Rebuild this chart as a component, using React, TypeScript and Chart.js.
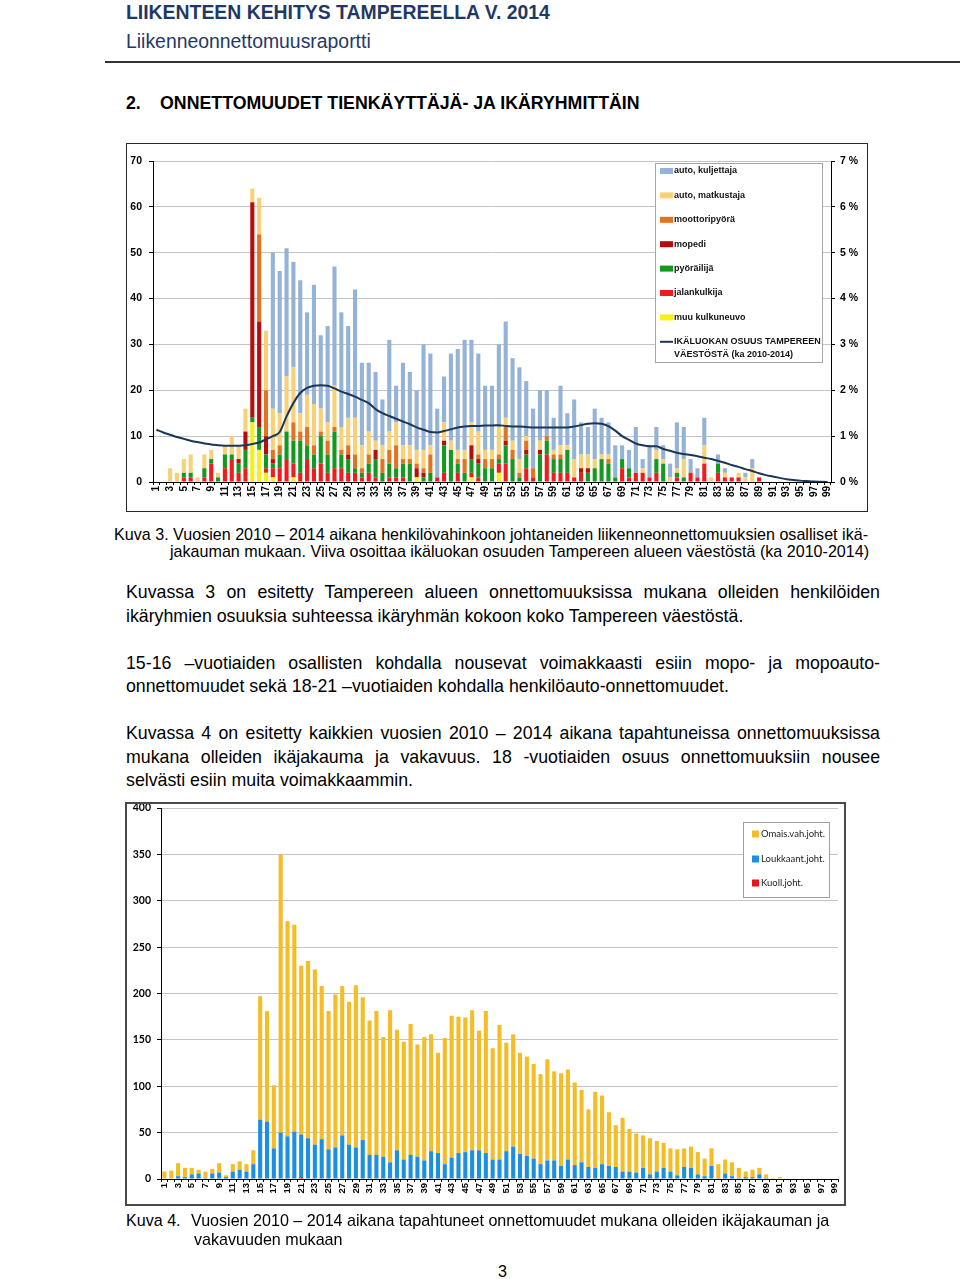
import React, { useEffect, useRef } from 'react';
import { Chart, registerables } from 'chart.js';

Chart.register(...registerables);

const FONT = "'Liberation Sans', Arial, Helvetica, sans-serif";
const FONT2 = "Lato, 'Open Sans', sans-serif";

// ---------- categories (age) ----------
const AGES = [
  '1','2','3','4','5','6','7','8','9','10',
  '11','12','13','14','15','16','17','18','19','20',
  '21','22','23','24','25','26','27','28','29','30',
  '31','32','33','34','35','36','37','38','39','40',
  '41','42','43','44','45','46','47','48','49','50',
  '51','52','53','54','55','56','57','58','59','60',
  '61','62','63','64','65','66','67','68','69','70',
  '71','72','73','74','75','76','77','78','79','80',
  '81','82','83','84','85','86','87','88','89','90',
  '91','92','93','94','95','96','97','98','99',
];

// ---------- Kuva 3: persons involved by road-user type (stack bottom -> top) ----------
const MUU_KULKUNEUVO = [
  0,0,0,0,0,0,0,0,0,0, 0,0,0,0,13,7,2,1,0,0, 1,0,0,0,0,0,0,0,0,0,
  0,0,0,0,0,0,0,0,1,0, 0,0,0,0,0,0,1,0,0,0, 2,0,0,0,0,0,0,0,0,0,
  0,0,0,0,0,0,0,0,0,0, 0,0,0,0,0,0,0,0,0,0, 0,0,0,0,0,0,0,0,0,0, 0,0,0,0,0,0,0,0,0,
];
const JALANKULKIJA = [
  0,0,0,0,1,1,0,1,4,0, 3,5,2,3,0,0,1,2,3,5, 3,2,5,3,4,2,3,3,2,2,
  1,2,1,0,1,1,1,0,0,0, 0,1,2,0,2,0,1,1,0,0, 2,4,0,0,3,1,0,6,2,2,
  2,1,2,0,0,0,0,0,3,1, 2,2,1,2,0,0,1,0,2,1, 4,0,2,1,1,1,0,0,1,0, 0,0,0,0,0,0,0,0,0,
];
const PYORAILIJA = [
  0,0,0,0,1,1,0,2,1,1, 3,1,2,4,1,5,3,1,3,6, 5,7,3,3,6,4,8,3,3,1,
  1,2,4,2,3,2,3,4,0,1, 2,0,6,7,2,2,3,3,3,3, 1,4,5,1,3,0,6,3,3,3,
  5,0,0,2,3,5,4,1,2,2, 0,0,0,3,4,0,1,1,0,0, 0,0,2,0,0,0,0,0,0,0, 0,0,0,0,0,0,0,0,0,
];
const MOPEDI = [
  0,0,0,0,0,0,0,0,0,0, 0,0,1,4,47,23,4,1,0,0, 0,0,0,0,0,0,0,0,1,0,
  0,0,2,0,0,0,0,0,2,1, 0,0,1,0,0,0,3,1,0,0, 0,1,0,0,1,0,1,0,0,0,
  0,0,1,1,0,0,0,0,0,0, 0,0,0,0,0,0,0,0,0,0, 0,0,0,0,0,0,0,0,0,0, 0,0,0,0,0,0,0,0,0,
];
const MOOTTORIPYORA = [
  0,0,0,0,0,0,0,0,0,0, 0,0,0,0,0,19,10,2,2,0, 4,2,4,2,1,3,1,1,2,3,
  1,2,0,3,3,5,1,1,1,1, 4,0,0,0,1,3,0,1,2,2, 1,3,2,1,2,2,0,1,1,1,
  0,0,0,0,0,0,1,0,0,0, 0,0,0,0,0,0,0,0,0,0, 0,0,0,0,0,0,0,0,0,0, 0,0,0,0,0,0,0,0,0,
];
const AUTO_MATKUSTAJA = [
  0,0,3,2,3,4,1,3,2,1, 2,4,3,5,3,8,13,9,7,12, 12,4,7,9,5,4,9,5,6,8,
  5,5,2,3,4,5,3,3,3,4, 2,0,4,2,2,2,5,5,2,2, 6,2,2,3,1,0,2,0,1,2,
  1,4,3,3,2,1,1,0,0,0, 0,1,0,2,1,1,1,4,0,0, 4,1,0,1,0,1,1,3,0,0, 0,0,0,0,0,0,0,0,0,
];
const AUTO_KULJETTAJA = [
  0,0,0,0,0,0,0,0,0,0, 0,0,0,0,0,0,0,34,31,28, 23,29,18,26,16,21,26,25,20,28,
  18,15,15,10,20,8,18,16,13,23, 20,15,10,19,22,24,18,17,14,14, 18,21,18,20,12,13,11,10,7,13,
  7,13,7,6,11,8,7,7,3,4, 10,2,7,5,3,3,10,7,3,2, 6,0,2,1,0,0,1,2,0,0, 0,0,0,0,0,0,0,0,0,
];
// share of the age class in Tampere population, %
const VAESTO_OSUUS = [
  1.14,1.08,1.03,0.98,0.94,0.90,0.87,0.84,0.82,0.80,
  0.79,0.79,0.79,0.80,0.83,0.86,0.93,1.00,1.09,1.43,
  1.72,1.94,2.05,2.10,2.11,2.10,2.04,1.97,1.92,1.86,
  1.79,1.72,1.59,1.50,1.44,1.38,1.32,1.26,1.19,1.14,
  1.09,1.08,1.11,1.15,1.19,1.21,1.22,1.22,1.23,1.23,
  1.24,1.22,1.21,1.21,1.20,1.19,1.19,1.19,1.19,1.19,
  1.19,1.21,1.24,1.27,1.28,1.27,1.22,1.12,1.00,0.92,
  0.84,0.80,0.78,0.78,0.72,0.68,0.64,0.61,0.59,0.56,
  0.53,0.50,0.46,0.42,0.37,0.33,0.28,0.24,0.19,0.15,
  0.12,0.09,0.06,0.045,0.03,0.02,0.01,0.005,0,
];
const Y1_TICKS = [0, 10, 20, 30, 40, 50, 60, 70];
const Y1R_TICKS = ['0 %', '1 %', '2 %', '3 %', '4 %', '5 %', '6 %', '7 %'];

const SERIES1_NAMES = [
  'muu kulkuneuvo', 'jalankulkija', 'pyöräilijä', 'mopedi',
  'moottoripyörä', 'auto, matkustaja', 'auto, kuljettaja',
];
const LINE1_NAME = ['IKÄLUOKAN OSUUS TAMPEREEN', 'VÄESTÖSTÄ (ka 2010-2014)'];

// ---------- Kuva 4: persons involved by severity (stack bottom -> top) ----------
const KUOLL = [
  0,0,0,0,0,0,0,0,0,0, 0,0,0,0,0,0,0,0,0,0, 2,0,0,0,0,0,0,0,0,0,
  0,0,0,0,0,0,0,0,0,0, 0,0,0,0,0,0,0,0,0,0, 0,0,0,0,0,0,0,0,0,0,
  0,0,0,0,0,0,0,0,0,0, 0,0,0,0,0,0,0,0,0,0, 0,0,0,0,0,0,0,0,0,0, 0,0,0,0,0,0,0,0,0,
];
const LOUKKAANT = [
  0,0,3,2,5,6,1,6,7,2, 8,10,8,16,64,62,33,50,46,51, 46,44,37,43,32,34,47,37,34,42,
  26,26,24,18,31,21,26,24,20,30, 28,16,23,28,29,31,31,28,21,21, 30,35,27,25,22,16,20,20,14,21,
  15,18,13,12,16,14,13,8,8,7, 12,5,8,12,8,4,13,12,5,3, 14,1,6,3,1,2,2,5,1,0, 0,0,0,0,0,0,0,0,0,
];
const OMAIS_VAH = [
  8,9,14,10,7,4,7,5,10,2, 8,9,8,15,133,119,68,300,232,223, 182,191,189,165,149,165,161,154,175,154,
  145,155,129,164,130,127,141,121,133,126, 108,136,153,147,145,151,129,153,120,145, 117,121,109,107,102,97,109,96,100,97,
  89,78,62,82,74,58,45,58,46,42, 35,39,33,27,25,28,20,23,24,19, 19,15,15,15,11,6,8,7,4,1, 2,0,0,0,0,0,0,0,0,
];
const SERIES2_NAMES = ['Kuoll.joht.', 'Loukkaant.joht.', 'Omais.vah.joht.'];

// ---------- styles ----------
const COLORS1 = ['#F7EE1A', '#EE1C1C', '#139A1E', '#B80D0D', '#E2741E', '#F8D177', '#95B3D7'];
const LINE1_COLOR = '#1C3657';
const COLORS2 = ['#E8141C', '#1C8FE0', '#F5BC26'];

const legendPlugin1 = {
  id: 'legendBox1',
  afterDraw(chart: any) {
    const ctx = chart.ctx;
    const ca = chart.chartArea;
    const bx = ca.right - 176;
    const by = ca.top + 2;
    ctx.save();
    ctx.fillStyle = '#ffffff';
    ctx.fillRect(bx, by, 167, 199);
    ctx.strokeStyle = '#A6A6A6';
    ctx.lineWidth = 1;
    ctx.strokeRect(bx + 0.5, by + 0.5, 167, 199);
    ctx.font = `bold 9px ${FONT}`;
    ctx.textBaseline = 'middle';
    const order = [6, 5, 4, 3, 2, 1, 0];
    order.forEach((si, i) => {
      const y = by + 8 + i * 24.4;
      ctx.fillStyle = COLORS1[si];
      ctx.fillRect(bx + 5, y - 3, 13, 6);
      ctx.fillStyle = '#111';
      ctx.fillText(SERIES1_NAMES[si], bx + 19, y);
    });
    const ly = by + 8 + 7 * 24.4;
    ctx.strokeStyle = LINE1_COLOR;
    ctx.lineWidth = 2;
    ctx.beginPath();
    ctx.moveTo(bx + 5, ly);
    ctx.lineTo(bx + 18, ly);
    ctx.stroke();
    ctx.fillStyle = '#111';
    ctx.fillText(LINE1_NAME[0], bx + 19, ly);
    ctx.fillText(LINE1_NAME[1], bx + 19, ly + 13);
    ctx.restore();
  },
};

const legendPlugin2 = {
  id: 'legendBox2',
  afterDraw(chart: any) {
    const ctx = chart.ctx;
    const ca = chart.chartArea;
    const bx = ca.right - 95;
    const by = ca.top + 14;
    ctx.save();
    ctx.fillStyle = '#ffffff';
    ctx.fillRect(bx, by, 86, 75);
    ctx.strokeStyle = '#A0A0A0';
    ctx.lineWidth = 1;
    ctx.strokeRect(bx + 0.5, by + 0.5, 86, 75);
    ctx.font = `9.5px ${FONT2}`;
    ctx.textBaseline = 'middle';
    const order = [2, 1, 0];
    const ys = [12, 37, 61];
    order.forEach((si, i) => {
      const y = by + ys[i];
      ctx.fillStyle = COLORS2[si];
      ctx.fillRect(bx + 9, y - 3.5, 7, 7);
      ctx.fillStyle = '#222';
      ctx.fillText(SERIES2_NAMES[si], bx + 18, y);
    });
    ctx.restore();
  },
};

function ChartOne() {
  const ref = useRef<HTMLCanvasElement | null>(null);
  useEffect(() => {
    if (!ref.current) return;
    const bars = [MUU_KULKUNEUVO, JALANKULKIJA, PYORAILIJA, MOPEDI, MOOTTORIPYORA, AUTO_MATKUSTAJA, AUTO_KULJETTAJA].map((d, i) => ({
      type: 'bar' as const,
      label: SERIES1_NAMES[i],
      data: d,
      backgroundColor: COLORS1[i],
      borderWidth: 0,
      categoryPercentage: 1,
      barPercentage: 0.6,
      yAxisID: 'y',
      order: 1,
    }));
    const chart = new Chart(ref.current, {
      type: 'bar',
      data: {
        labels: AGES,
        datasets: [
          ...bars,
          {
            type: 'line' as const,
            label: LINE1_NAME.join(' '),
            data: VAESTO_OSUUS,
            borderColor: LINE1_COLOR,
            borderWidth: 2,
            pointRadius: 0,
            fill: false,
            cubicInterpolationMode: 'monotone',
            yAxisID: 'y1',
            order: 0,
          } as any,
        ],
      },
      options: {
        animation: false,
        responsive: false,
        maintainAspectRatio: false,
        layout: { padding: { left: 0, right: 0, top: 18, bottom: 0 } },
        plugins: { legend: { display: false }, tooltip: { enabled: false } },
        scales: {
          x: {
            stacked: true,
            grid: { drawOnChartArea: false, drawTicks: true, tickLength: 3, tickColor: '#000' },
            border: { color: '#000', width: 1 },
            ticks: {
              autoSkip: false,
              maxRotation: 90,
              minRotation: 90,
              padding: 1,
              color: '#000',
              font: { family: FONT, size: 10, weight: 'bold' },
              callback: (_v: any, i: number) => (i % 2 === 0 ? AGES[i] : ''),
            },
            afterFit: (s: any) => { s.height = 30; s.paddingLeft = 0; s.paddingRight = 0; },
          },
          y: {
            stacked: true,
            min: Y1_TICKS[0],
            max: Y1_TICKS[Y1_TICKS.length - 1],
            grid: { color: '#C4C4C4', tickColor: '#000', tickLength: 4 },
            border: { color: '#000', width: 1 },
            ticks: { stepSize: 10, padding: 7, color: '#000', font: { family: FONT, size: 10.5, weight: 'bold' } },
            afterFit: (s: any) => { s.width = 27; s.paddingTop = 0; s.paddingBottom = 0; },
          },
          y1: {
            position: 'right',
            min: 0,
            max: 7,
            grid: { drawOnChartArea: false, tickColor: '#000', tickLength: 4 },
            border: { color: '#000', width: 1 },
            ticks: {
              stepSize: 1,
              padding: 5,
              color: '#000',
              font: { family: FONT, size: 10.5, weight: 'bold' },
              callback: (v: any) => Y1R_TICKS[Math.round(Number(v))],
            },
            afterFit: (s: any) => { s.width = 37; s.paddingTop = 0; s.paddingBottom = 0; },
          },
        },
      } as any,
      plugins: [legendPlugin1],
    });
    return () => chart.destroy();
  }, []);
  return <canvas ref={ref} width={742} height={369} style={{ position: 'absolute', left: 126, top: 143, width: 742, height: 369, display: 'block' }} />;
}

function ChartTwo() {
  const ref = useRef<HTMLCanvasElement | null>(null);
  useEffect(() => {
    if (!ref.current) return;
    const datasets = [KUOLL, LOUKKAANT, OMAIS_VAH].map((d, i) => ({
      label: SERIES2_NAMES[i],
      data: d,
      backgroundColor: COLORS2[i],
      borderWidth: 0,
      categoryPercentage: 1,
      barPercentage: 0.6,
    }));
    const chart = new Chart(ref.current, {
      type: 'bar',
      data: { labels: AGES, datasets },
      options: {
        animation: false,
        responsive: false,
        maintainAspectRatio: false,
        layout: { padding: { left: 0, right: 7, top: 4, bottom: 0 } },
        plugins: { legend: { display: false }, tooltip: { enabled: false } },
        scales: {
          x: {
            stacked: true,
            grid: { drawOnChartArea: false, drawTicks: true, tickLength: 3, tickColor: '#000' },
            border: { color: '#000', width: 1 },
            ticks: {
              autoSkip: false,
              maxRotation: 90,
              minRotation: 90,
              padding: 1,
              color: '#000',
              font: { family: FONT, size: 9.5, weight: 'bold' },
              callback: (_v: any, i: number) => (i % 2 === 0 ? AGES[i] : ''),
            },
            afterFit: (s: any) => { s.height = 26; s.paddingLeft = 0; s.paddingRight = 0; },
          },
          y: {
            stacked: true,
            min: 0,
            max: 400,
            grid: { color: '#C4C4C4', tickColor: '#000', tickLength: 4 },
            border: { color: '#000', width: 1 },
            ticks: { stepSize: 50, padding: 6, color: '#000', font: { family: FONT2, size: 10.5, weight: 'bold' } },
            afterFit: (s: any) => { s.width = 35; s.paddingTop = 0; s.paddingBottom = 0; },
          },
        },
      } as any,
      plugins: [legendPlugin2],
    });
    return () => chart.destroy();
  }, []);
  return <canvas ref={ref} width={719} height={401} style={{ position: 'absolute', left: 126, top: 804, width: 719, height: 401, display: 'block' }} />;
}

function T(props: { x: number; y: number; w?: number; size: number; bold?: boolean; justify?: boolean; color?: string; children: React.ReactNode }) {
  const { x, y, w, size, bold, justify, color, children } = props;
  const lh = Math.round(size * 1.3);
  return (
    <div
      style={{
        position: 'absolute',
        left: x,
        top: y - lh / 2,
        width: w,
        height: lh,
        lineHeight: lh + 'px',
        fontSize: size,
        fontWeight: bold ? 700 : 400,
        fontFamily: FONT,
        color: color || '#000',
        whiteSpace: justify ? 'normal' : 'nowrap',
        textAlign: justify ? 'justify' : 'left',
        textAlignLast: justify ? 'justify' : 'auto',
      } as any}
    >
      {children}
    </div>
  );
}

export default function App() {
  const HEAD = '#1F3966';
  const P = 17.75;
  const C = 16.1;
  return (
    <div style={{ position: 'absolute', left: 0, top: 0, width: 960, height: 1279, background: '#fff', overflow: 'hidden' }}>
      <T x={126} y={12} size={19.4} bold color={HEAD}>LIIKENTEEN KEHITYS TAMPEREELLA V. 2014</T>
      <T x={126} y={41} size={19.4} color={HEAD}>Liikenneonnettomuusraportti</T>
      <div style={{ position: 'absolute', left: 105, top: 61, width: 855, height: 2, background: '#333' }} />
      <T x={126} y={103} size={P} bold>2.</T>
      <T x={160} y={103} size={P} bold>ONNETTOMUUDET TIENKÄYTTÄJÄ- JA IKÄRYHMITTÄIN</T>

      <ChartOne />
      <div style={{ position: 'absolute', left: 126, top: 143, width: 742, height: 369, border: '1px solid #2a2a2a', boxSizing: 'border-box', pointerEvents: 'none' }} />

      <T x={114} y={534} w={754} size={C} justify>Kuva 3. Vuosien 2010 – 2014 aikana henkilövahinkoon johtaneiden liikenneonnettomuuksien osalliset ikä-</T>
      <T x={170} y={551} size={C}>jakauman mukaan. Viiva osoittaa ikäluokan osuuden Tampereen alueen väestöstä (ka 2010-2014)</T>

      <T x={126} y={592} w={754} size={P} justify>Kuvassa 3 on esitetty Tampereen alueen onnettomuuksissa mukana olleiden henkilöiden</T>
      <T x={126} y={616} size={P}>ikäryhmien osuuksia suhteessa ikäryhmän kokoon koko Tampereen väestöstä.</T>

      <T x={126} y={663} w={754} size={P} justify>15-16 –vuotiaiden osallisten kohdalla nousevat voimakkaasti esiin mopo- ja mopoauto-</T>
      <T x={126} y={686} size={P}>onnettomuudet sekä 18-21 –vuotiaiden kohdalla henkilöauto-onnettomuudet.</T>

      <T x={126} y={733} w={754} size={P} justify>Kuvassa 4 on esitetty kaikkien vuosien 2010 – 2014 aikana tapahtuneissa onnettomuuksissa</T>
      <T x={126} y={757} w={754} size={P} justify>mukana olleiden ikäjakauma ja vakavuus. 18 -vuotiaiden osuus onnettomuuksiin nousee</T>
      <T x={126} y={780} size={P}>selvästi esiin muita voimakkaammin.</T>

      <ChartTwo />
      <div style={{ position: 'absolute', left: 125, top: 802, width: 721, height: 404, border: '2px solid #4a4a4a', boxSizing: 'border-box', pointerEvents: 'none' }} />

      <T x={126} y={1220} size={C}>Kuva 4.</T>
      <T x={191} y={1220} size={C}>Vuosien 2010 – 2014 aikana tapahtuneet onnettomuudet mukana olleiden ikäjakauman ja</T>
      <T x={194} y={1239} size={C}>vakavuuden mukaan</T>

      <T x={498} y={1271} size={C}>3</T>
    </div>
  );
}
